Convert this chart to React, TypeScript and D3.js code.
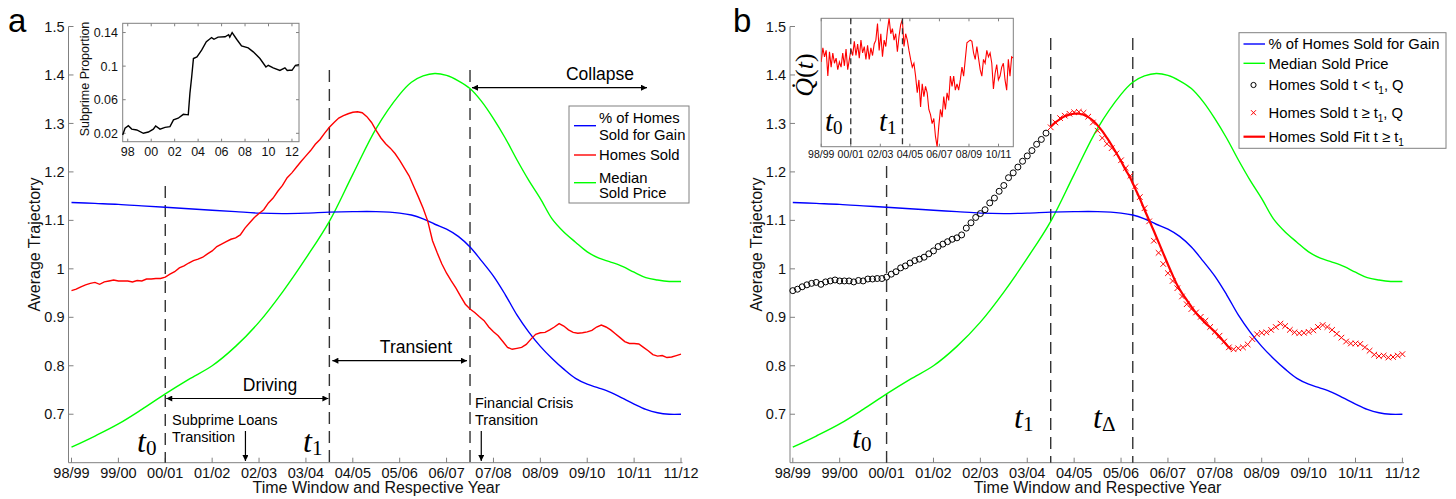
import React from 'react';
import * as d3 from 'd3';

// ---------- data ----------
const yearLabels = ['98/99','99/00','00/01','01/02','02/03','03/04','04/05','05/06','06/07','07/08','08/09','09/10','10/11','11/12'];
const yTicks = [0.7, 0.8, 0.9, 1, 1.1, 1.2, 1.3, 1.4, 1.5];

const gainTimes = [0,0.5,1,1.5,2,2.5,3,3.5,4,4.5,5,5.5,6,6.5,7,7.25,7.5,7.75,8,8.25,8.5,8.75,9,9.25,9.5,9.75,10,10.25,10.5,10.75,11,11.25,11.5,11.75,12,12.25,12.5,12.75,13];
const gainValues = [1.137,1.135,1.133,1.130,1.127,1.124,1.121,1.118,1.115,1.114,1.115,1.117,1.118,1.118,1.115,1.111,1.103,1.092,1.082,1.067,1.045,1.016,0.985,0.947,0.905,0.870,0.840,0.815,0.793,0.774,0.762,0.754,0.745,0.733,0.721,0.710,0.703,0.700,0.700];

const priceTimes = [0,0.5,1,1.5,2,2.5,3,3.5,4,4.5,5,5.5,6,6.5,7,7.25,7.5,7.75,8,8.25,8.5,8.75,9,9.25,9.5,9.75,10,10.25,10.5,10.75,11,11.25,11.5,11.75,12,12.25,12.5,12.75,13];
const priceValues = [0.632,0.655,0.680,0.710,0.742,0.772,0.800,0.840,0.890,0.952,1.022,1.098,1.195,1.290,1.360,1.385,1.398,1.403,1.399,1.388,1.372,1.345,1.310,1.270,1.225,1.183,1.145,1.103,1.076,1.055,1.035,1.022,1.014,1.005,0.993,0.982,0.977,0.974,0.974];

// Homes sold, sampled every 0.1 year starting at 98/99
const homesSoldStep = 0.1;
const homesSold = [
  0.955,0.958,0.963,0.967,0.970,0.972,0.968,0.973,0.975,0.977,
  0.975,0.975,0.975,0.973,0.976,0.975,0.979,0.979,0.980,0.980,
  0.983,0.989,0.994,1.002,1.006,1.012,1.017,1.020,1.024,1.031,
  1.037,1.046,1.051,1.056,1.061,1.064,1.070,1.084,1.095,1.106,
  1.114,1.122,1.136,1.146,1.160,1.172,1.188,1.198,1.210,1.222,
  1.233,1.244,1.257,1.267,1.280,1.292,1.302,1.311,1.316,1.320,
  1.323,1.324,1.322,1.314,1.302,1.285,1.270,1.258,1.249,1.238,
  1.224,1.208,1.192,1.170,1.148,1.125,1.098,1.058,1.033,1.010,
  0.991,0.975,0.960,0.943,0.927,0.917,0.910,0.901,0.893,0.880,
  0.870,0.862,0.850,0.838,0.834,0.836,0.838,0.844,0.855,0.865,
  0.868,0.869,0.874,0.880,0.887,0.882,0.874,0.869,0.867,0.868,
  0.870,0.873,0.880,0.884,0.880,0.874,0.866,0.858,0.850,0.846,
  0.846,0.845,0.838,0.831,0.823,0.820,0.821,0.817,0.818,0.821,
  0.824
];

const fitTimes = [5.5,5.6,5.7,5.8,5.9,6.0,6.1,6.2,6.3,6.4,6.5,6.6,6.7,6.8,6.9,7.0,7.1,7.2,7.3,7.4,7.5,7.6,7.7,7.8,7.9,8.0,8.1,8.2,8.3,8.4,8.5,8.6,8.7,8.8,8.9,9.0,9.1,9.2,9.3,9.35];
const fitValues = [1.293,1.302,1.309,1.315,1.318,1.320,1.320,1.318,1.313,1.306,1.296,1.284,1.270,1.255,1.239,1.222,1.204,1.187,1.166,1.145,1.122,1.100,1.078,1.055,1.032,1.009,0.987,0.966,0.950,0.936,0.922,0.909,0.898,0.888,0.879,0.870,0.859,0.849,0.838,0.833];

const t0 = 2, t1 = 5.5, tCrisis = 8.5, tDelta = 7.25;

const subprimeYears = [1997.57,1997.77,1998.05,1998.34,1998.77,1999.33,1999.76,2000.18,2000.38,2000.75,2001.18,2001.6,2001.9,2002.3,2002.74,2003.16,2003.3,2003.45,2003.6,2003.9,2004.3,2004.7,2005.15,2005.35,2005.7,2006.3,2006.6,2006.7,2006.9,2007.3,2007.7,2008.27,2008.7,2009.27,2009.78,2009.98,2010.4,2010.97,2011.4,2011.6,2011.8,2012.0,2012.3,2012.6];
const subprimeValues = [0.018,0.026,0.029,0.025,0.024,0.020,0.0215,0.025,0.0287,0.025,0.027,0.028,0.036,0.038,0.0426,0.042,0.0675,0.087,0.109,0.111,0.119,0.129,0.134,0.132,0.1345,0.135,0.1375,0.1345,0.14,0.1317,0.124,0.1217,0.117,0.109,0.099,0.101,0.098,0.0948,0.098,0.0948,0.095,0.095,0.101,0.1016];
const subprimeTicks = [0.02, 0.06, 0.1, 0.14];
const subprimeTickLabels = ['0.02', '0.06', '0.1', '0.14'];
const subprimeYearTicks = [1998, 2000, 2002, 2004, 2006, 2008, 2010, 2012];
const subprimeYearLabels = ['98', '00', '02', '04', '06', '08', '10', '12'];

// Q-dot(t), relative units (0 = inset bottom, 100 = inset top), evenly spaced over 98/99..11/12
const qValues = [
  66,77,70,75,55,74,62,73,65,69,
  60,66,62,73,63,76,60,68,76,71,
  82,71,80,69,83,73,78,68,79,68,
  77,71,80,83,96,75,88,70,83,78,
  91,100,88,92,83,88,74,86,95,99,
  78,88,83,75,68,62,65,55,42,52,
  31,49,39,47,42,29,25,18,22,8,
  0,16,29,23,39,29,42,36,55,47,
  55,44,49,44,52,62,55,68,81,82,
  83,82,73,68,78,69,60,55,68,65,
  75,70,73,65,45,57,64,52,55,62,
  65,52,44,68,55,70,69
];
const insetTicks = [0, 2, 4, 6, 8, 10, 12];
const insetTickLabels = ['98/99','00/01','02/03','04/05','06/07','08/09','10/11'];

// ---------- styles ----------
const SANS = "'Liberation Sans', Arial, Helvetica, sans-serif";
const SERIF = "'Liberation Serif', 'DejaVu Serif', 'Times New Roman', serif";
const AXIS = '#808080';
const BLUE = '#0000ff';
const RED = '#ff0000';
const GREEN = '#00ff00';
const DASH = '#333333';

const y = d3.scaleLinear().domain([0.6, 1.5]).range([462.7, 26.5]);

function zip(xs: number[], ys: number[]): [number, number][] {
  return xs.map((v, i) => [v, ys[i]] as [number, number]);
}

const gainData = zip(gainTimes, gainValues);
const priceData = zip(priceTimes, priceValues);
const soldData: [number, number][] = homesSold.map((v, i) => [i * homesSoldStep, v]);
const fitData = zip(fitTimes, fitValues);

function MainAxes({ x, axisX }: { x: d3.ScaleLinear<number, number>; axisX: number }) {
  const y0 = y(0.6);
  const xEnd = x(13) + 1.5;
  return (
    <g>
      <line x1={axisX} x2={axisX} y1={y(1.5)} y2={y0} stroke={AXIS} strokeWidth={1} />
      <line x1={axisX} x2={xEnd} y1={y0} y2={y0} stroke={AXIS} strokeWidth={1} />
      {yTicks.map((t) => (
        <g key={t}>
          <line x1={axisX} x2={axisX + 5} y1={y(t)} y2={y(t)} stroke={AXIS} />
          <text x={axisX - 4} y={y(t)} dy="0.35em" textAnchor="end" fontSize={14.5} fontFamily={SANS} fill="#111">{String(t)}</text>
        </g>
      ))}
      {yearLabels.map((lab, i) => (
        <g key={lab}>
          <line x1={x(i)} x2={x(i)} y1={y0} y2={y0 - 5} stroke={AXIS} />
          <text x={x(i)} y={478} textAnchor="middle" fontSize={14.5} fontFamily={SANS} fill="#111">{lab}</text>
        </g>
      ))}
      <text x={(x(0) + x(13)) / 2} y={493} textAnchor="middle" fontSize={16} fontFamily={SANS} fill="#111">Time Window and Respective Year</text>
      <text transform={`translate(${axisX - 34},${(y(1.5) + y0) / 2}) rotate(-90)`} textAnchor="middle" dy="0.35em" fontSize={16} fontFamily={SANS} fill="#111">Average Trajectory</text>
    </g>
  );
}

function TLabel({ x, y: yy, sub, size = 32 }: { x: number; y: number; sub: string; size?: number }) {
  return (
    <text x={x} y={yy} fontFamily={SERIF} fontSize={size} fill="#000">
      <tspan fontStyle="italic">t</tspan>
      <tspan fontSize={size * 0.66} dy={size * 0.1}>{sub}</tspan>
    </text>
  );
}

function VDash({ xx, y1, y2, dash = '12,7', w = 1.4 }: { xx: number; y1: number; y2: number; dash?: string; w?: number }) {
  return <line x1={xx} x2={xx} y1={y1} y2={y2} stroke={DASH} strokeWidth={w} strokeDasharray={dash} />;
}

export default function App() {
  const xA = d3.scaleLinear().domain([0, 13]).range([71.5, 681]);
  const xB = d3.scaleLinear().domain([0, 13]).range([792.8, 1402.4]);

  const smoothA = d3.line<[number, number]>().x((d) => xA(d[0])).y((d) => y(d[1])).curve(d3.curveCatmullRom);
  const smoothB = d3.line<[number, number]>().x((d) => xB(d[0])).y((d) => y(d[1])).curve(d3.curveCatmullRom);
  const linA = d3.line<[number, number]>().x((d) => xA(d[0])).y((d) => y(d[1]));
  const linB = d3.line<[number, number]>().x((d) => xB(d[0])).y((d) => y(d[1])).curve(d3.curveCatmullRom);

  // inset a scales
  const sxA = d3.scaleLinear().domain([1997.57, 2012.6]).range([122.7, 299]);
  const syA = d3.scaleLinear().domain([0.01, 0.151]).range([141.7, 23.3]);
  const subLine = d3.line<[number, number]>().x((d) => sxA(d[0])).y((d) => syA(d[1]));
  const subData = zip(subprimeYears, subprimeValues);

  // inset b scales
  const sxB = d3.scaleLinear().domain([0, 13]).range([821.2, 1013.3]);
  const syB = d3.scaleLinear().domain([0, 100]).range([146.7, 18.3]);
  const qLine = d3.line<number>().x((_, i) => sxB((i * 13) / (qValues.length - 1))).y((d) => syB(d));

  const y0 = y(0.6);
  const before = soldData.filter((d) => d[0] < t1 - 1e-9);
  const after = soldData.filter((d) => d[0] >= t1 - 1e-9);

  return (
    <div style={{ position: 'absolute', left: 0, top: 0 }}>
      <svg width={1456} height={499} viewBox="0 0 1456 499" style={{ display: 'block', background: '#fff' }}>
        <defs>
          <marker id="ah" viewBox="0 0 10 10" refX={10} refY={5} markerWidth={9} markerHeight={6} markerUnits="userSpaceOnUse" orient="auto-start-reverse">
            <path d="M0,0 L10,5 L0,10 z" fill="#000" />
          </marker>
          <clipPath id="clipQ">
            <rect x={821.2} y={18.3} width={192.1} height={128.4} />
          </clipPath>
        </defs>

        {/* ================= Panel a ================= */}
        <text x={8} y={32} fontFamily={SANS} fontSize={33} fill="#000">a</text>
        <MainAxes x={xA} axisX={68.5} />

        {/* dashed transition lines */}
        <VDash xx={xA(t0)} y1={186} y2={y0} />
        <VDash xx={xA(t1)} y1={70} y2={y0} />
        <VDash xx={xA(tCrisis)} y1={70} y2={y0} />

        <path d={smoothA(priceData) || ''} fill="none" stroke={GREEN} strokeWidth={1.4} />
        <path d={smoothA(gainData) || ''} fill="none" stroke={BLUE} strokeWidth={1.4} />
        <path d={linA(soldData) || ''} fill="none" stroke={RED} strokeWidth={1.4} />

        {/* phase arrows */}
        <line x1={xA(t0) + 1} x2={xA(t1) - 1} y1={398.5} y2={398.5} stroke="#000" strokeWidth={1.2} markerStart="url(#ah)" markerEnd="url(#ah)" />
        <text x={270} y={391} textAnchor="middle" fontFamily={SANS} fontSize={17.5} fill="#000">Driving</text>
        <line x1={xA(t1) + 3} x2={xA(tCrisis) - 3} y1={360.7} y2={360.7} stroke="#000" strokeWidth={1.2} markerStart="url(#ah)" markerEnd="url(#ah)" />
        <text x={416} y={353} textAnchor="middle" fontFamily={SANS} fontSize={17.5} fill="#000">Transient</text>
        <line x1={xA(tCrisis) + 2} x2={647} y1={87.7} y2={87.7} stroke="#000" strokeWidth={1.2} markerStart="url(#ah)" markerEnd="url(#ah)" />
        <text x={600} y={80} textAnchor="middle" fontFamily={SANS} fontSize={17.5} fill="#000">Collapse</text>

        {/* transition annotations */}
        <text fontFamily={SANS} fontSize={14.5} fill="#000">
          <tspan x={172} y={425}>Subprime Loans</tspan>
          <tspan x={172} y={442}>Transition</tspan>
        </text>
        <line x1={xA(3.71)} x2={xA(3.71)} y1={431} y2={461} stroke="#000" strokeWidth={1.2} markerEnd="url(#ah)" />
        <text fontFamily={SANS} fontSize={14.5} fill="#000">
          <tspan x={475} y={408}>Financial Crisis</tspan>
          <tspan x={475} y={425}>Transition</tspan>
        </text>
        <line x1={xA(8.74)} x2={xA(8.74)} y1={431} y2={461} stroke="#000" strokeWidth={1.2} markerEnd="url(#ah)" />

        <TLabel x={137} y={452} sub="0" />
        <TLabel x={303} y={452} sub="1" />

        {/* legend a */}
        <rect x={569} y={106} width={120} height={97} fill="#fff" stroke={AXIS} strokeWidth={1} />
        <line x1={574} x2={596} y1={125.7} y2={125.7} stroke={BLUE} strokeWidth={1.4} />
        <line x1={574} x2={596} y1={155} y2={155} stroke={RED} strokeWidth={1.4} />
        <line x1={574} x2={596} y1={182.7} y2={182.7} stroke={GREEN} strokeWidth={1.4} />
        <text fontFamily={SANS} fontSize={14.8} fill="#000">
          <tspan x={599} y={123}>% of Homes</tspan>
          <tspan x={599} y={140}>Sold for Gain</tspan>
          <tspan x={599} y={159.5}>Homes Sold</tspan>
          <tspan x={599} y={182.5}>Median</tspan>
          <tspan x={599} y={197.5}>Sold Price</tspan>
        </text>

        {/* inset a */}
        <rect x={122.7} y={23.3} width={176.3} height={118.4} fill="#fff" stroke={AXIS} strokeWidth={1} />
        {subprimeTicks.map((t, i) => (
          <g key={t}>
            <line x1={122.7} x2={125.7} y1={syA(t)} y2={syA(t)} stroke={AXIS} />
            <line x1={299} x2={296} y1={syA(t)} y2={syA(t)} stroke={AXIS} />
            <text x={118} y={syA(t)} dy="0.35em" textAnchor="end" fontFamily={SANS} fontSize={12.5} fill="#111">{subprimeTickLabels[i]}</text>
          </g>
        ))}
        {subprimeYearTicks.map((t, i) => (
          <g key={t}>
            <line x1={sxA(t)} x2={sxA(t)} y1={141.7} y2={138.7} stroke={AXIS} />
            <line x1={sxA(t)} x2={sxA(t)} y1={23.3} y2={26.3} stroke={AXIS} />
            <text x={sxA(t)} y={156} textAnchor="middle" fontFamily={SANS} fontSize={12.5} fill="#111">{subprimeYearLabels[i]}</text>
          </g>
        ))}
        <path d={subLine(subData) || ''} fill="none" stroke="#000" strokeWidth={1.4} />
        <text transform="translate(85,79) rotate(-90)" textAnchor="middle" dy="0.35em" fontFamily={SANS} fontSize={12.5} fill="#111">Subprime Proportion</text>

        {/* ================= Panel b ================= */}
        <text x={733} y={32} fontFamily={SANS} fontSize={33} fill="#000">b</text>
        <MainAxes x={xB} axisX={790} />

        <VDash xx={xB(t0)} y1={166} y2={y0} />
        <VDash xx={xB(t1)} y1={38} y2={y0} />
        <VDash xx={xB(tDelta)} y1={38} y2={y0} />

        <path d={smoothB(priceData) || ''} fill="none" stroke={GREEN} strokeWidth={1.4} />
        <path d={smoothB(gainData) || ''} fill="none" stroke={BLUE} strokeWidth={1.4} />

        {before.map((d, i) => (
          <circle key={'c' + i} cx={xB(d[0])} cy={y(d[1])} r={3} fill="none" stroke="#000" strokeWidth={1} />
        ))}
        {after.map((d, i) => {
          const cx = xB(d[0]);
          const cy = y(d[1]);
          const s = 2.8;
          return (
            <path key={'x' + i} d={`M${cx - s},${cy - s}L${cx + s},${cy + s}M${cx - s},${cy + s}L${cx + s},${cy - s}`} stroke={RED} strokeWidth={1} fill="none" />
          );
        })}
        <path d={linB(fitData) || ''} fill="none" stroke={RED} strokeWidth={2.2} />

        <TLabel x={852} y={448} sub="0" />
        <TLabel x={1014} y={428} sub="1" />
        <TLabel x={1093} y={428} sub="Δ" />

        {/* legend b */}
        <rect x={1239} y={32.7} width={207} height={115.6} fill="#fff" stroke={AXIS} strokeWidth={1} />
        <line x1={1243.5} x2={1265} y1={44} y2={44} stroke={BLUE} strokeWidth={1.4} />
        <line x1={1243.5} x2={1265} y1={63.3} y2={63.3} stroke={GREEN} strokeWidth={1.4} />
        <circle cx={1253.5} cy={85} r={2.6} fill="none" stroke="#000" strokeWidth={1} />
        <path d="M1251,110.2L1256,115.2M1251,115.2L1256,110.2" stroke={RED} strokeWidth={1} />
        <line x1={1243.5} x2={1265} y1={136.7} y2={136.7} stroke={RED} strokeWidth={2.2} />
        <text fontFamily={SANS} fontSize={14.8} fill="#000">
          <tspan x={1268.5} y={49}>% of Homes Sold for Gain</tspan>
          <tspan x={1268.5} y={68.5}>Median Sold Price</tspan>
        </text>
        <text x={1268.5} y={90} fontFamily={SANS} fontSize={14.8} fill="#000">
          Homes Sold t {'<'} t<tspan fontSize={10} dy={4}>1</tspan><tspan dy={-4}>, Q</tspan>
        </text>
        <text x={1268.5} y={117.5} fontFamily={SANS} fontSize={14.8} fill="#000">
          Homes Sold t ≥ t<tspan fontSize={10} dy={4}>1</tspan><tspan dy={-4}>, Q</tspan>
        </text>
        <text x={1268.5} y={142} fontFamily={SANS} fontSize={14.8} fill="#000">
          Homes Sold Fit t ≥ t<tspan fontSize={10} dy={4}>1</tspan>
        </text>

        {/* inset b */}
        <rect x={821.2} y={18.3} width={192.1} height={128.4} fill="#fff" stroke={AXIS} strokeWidth={1} />
        {insetTicks.map((t, i) => (
          <g key={t}>
            <line x1={sxB(t)} x2={sxB(t)} y1={146.7} y2={143.7} stroke={AXIS} />
            <line x1={sxB(t)} x2={sxB(t)} y1={18.3} y2={21.3} stroke={AXIS} />
            <text x={sxB(t)} y={158} textAnchor="middle" fontFamily={SANS} fontSize={10.5} fill="#111">{insetTickLabels[i]}</text>
          </g>
        ))}
        <path d={qLine(qValues) || ''} fill="none" stroke={RED} strokeWidth={1.1} clipPath="url(#clipQ)" />
        <VDash xx={sxB(t0)} y1={18.3} y2={146.7} dash="6,4" w={1.3} />
        <VDash xx={sxB(t1)} y1={18.3} y2={146.7} dash="6,4" w={1.3} />
        <TLabel x={825} y={131} sub="0" size={29} />
        <TLabel x={879} y={131} sub="1" size={29} />
        <text transform="translate(813,75) rotate(-90)" textAnchor="middle" fontFamily={SERIF} fontSize={26} fill="#000">
          <tspan fontStyle="italic">Q̇</tspan>(<tspan fontStyle="italic">t</tspan>)
        </text>
      </svg>
    </div>
  );
}
